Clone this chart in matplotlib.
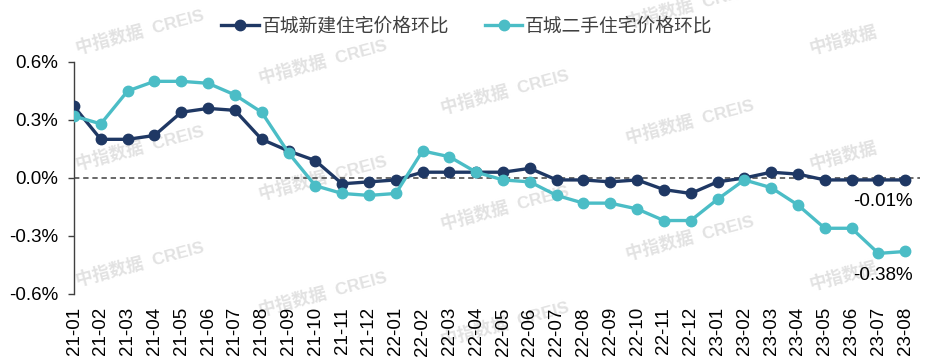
import matplotlib.pyplot as plt

plt.rcParams['font.family'] = ['Liberation Sans', 'Noto Sans CJK SC']
plt.rcParams['axes.unicode_minus'] = False

months = ['21-01', '21-02', '21-03', '21-04', '21-05', '21-06', '21-07', '21-08',
          '21-09', '21-10', '21-11', '21-12', '22-01', '22-02', '22-03', '22-04',
          '22-05', '22-06', '22-07', '22-08', '22-09', '22-10', '22-11', '22-12',
          '23-01', '23-02', '23-03', '23-04', '23-05', '23-06', '23-07', '23-08']

# 百城新建住宅价格环比 (%)
new_home = [0.37, 0.20, 0.20, 0.22, 0.34, 0.36, 0.35, 0.20,
            0.14, 0.09, -0.03, -0.02, -0.01, 0.03, 0.03, 0.03,
            0.03, 0.05, -0.01, -0.01, -0.02, -0.01, -0.06, -0.08,
            -0.02, 0.00, 0.03, 0.02, -0.01, -0.01, -0.01, -0.01]

# 百城二手住宅价格环比 (%)
second_hand = [0.32, 0.28, 0.45, 0.50, 0.50, 0.49, 0.43, 0.34,
               0.13, -0.04, -0.08, -0.09, -0.08, 0.14, 0.11, 0.03,
               -0.01, -0.02, -0.09, -0.13, -0.13, -0.16, -0.22, -0.22,
               -0.11, -0.01, -0.05, -0.14, -0.26, -0.26, -0.39, -0.38]

labels = ['百城新建住宅价格环比', '百城二手住宅价格环比']
yticks = [0.6, 0.3, 0.0, -0.3, -0.6]

W, H = 934, 362
fig = plt.figure(figsize=(W / 100, H / 100), dpi=100)
ax = fig.add_axes([74 / W, 1 - 294 / H, 846 / W, 232 / H])
ax.patch.set_visible(False)

# watermark, light grey, behind everything
wm_cols = [(140, [32, 148, 264], '中指数据  CREIS'),
           (323, [62, 178, 294], '中指数据  CREIS'),
           (505, [92, 208, 324], '中指数据  CREIS'),
           (690, [6, 122, 238], '中指数据  CREIS'),
           (843, [40, 156, 276], '中指数据')]
for cx, ys, txt in wm_cols:
    for cy in ys:
        fig.text(cx / W, 1 - cy / H, txt, fontsize=12.5, fontweight='bold',
                 color='#e2e2e2', rotation=15, rotation_mode='anchor',
                 ha='center', va='center', zorder=-1)

x = list(range(len(months)))
ax.axhline(0, color='#404040', lw=1.1, ls=(0, (3.5, 2.5)), zorder=1)
l1, = ax.plot(x, new_home, color='#1f3864', lw=2.4, marker='o', ms=7.5,
              label=labels[0], zorder=3)
l2, = ax.plot(x, second_hand, color='#4bbdc6', lw=2.4, marker='o', ms=7.5,
              label=labels[1], zorder=4)

ax.annotate('-0.01%', xy=(x[-1], new_home[-1]), xytext=(-22, -22),
            textcoords='offset pixels', ha='center', va='center', fontsize=13.5)
ax.annotate('-0.38%', xy=(x[-1], second_hand[-1]), xytext=(-22, -24),
            textcoords='offset pixels', ha='center', va='center', fontsize=13.5)

ax.set_xlim(0, 31.55)
ax.set_ylim(-0.6, 0.6)
ax.set_yticks(yticks)
ax.set_yticklabels(['%.1f%%' % v for v in yticks])
ax.set_xticks(x)
ax.set_xticklabels(months, rotation=90, va='top', ha='center')
ax.tick_params(axis='y', direction='out', length=4.5, width=1, pad=7,
               labelsize=13.5, color='#404040')
ax.tick_params(axis='x', length=0, pad=9.5, labelsize=13.5)

for s in ['top', 'right', 'bottom']:
    ax.spines[s].set_visible(False)
ax.spines['left'].set_color('#404040')
ax.spines['left'].set_linewidth(1)

leg = fig.legend(handles=[l1, l2], labels=labels, loc='center',
                 bbox_to_anchor=(0.5, 1 - 27 / H), ncol=2, frameon=False,
                 prop={'size': 13.5, 'weight': 'light'},
                 handlelength=2.0, handletextpad=0.15, columnspacing=1.9)
for t in leg.get_texts():
    t.set_color('#404040')

fig.savefig('out.png', dpi=100)
